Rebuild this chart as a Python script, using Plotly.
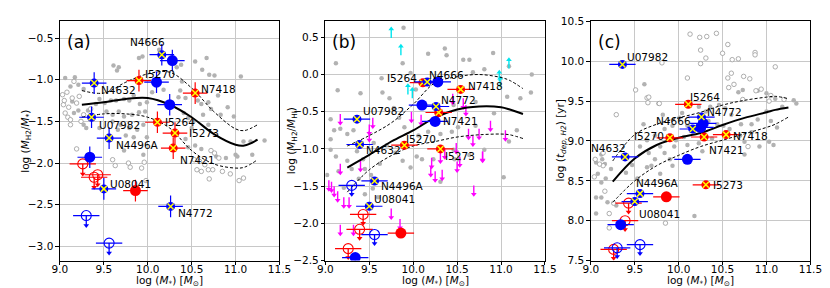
import plotly.graph_objects as go

# ---------------- galaxy samples (stellar mass) ----------------
bx_names = ["N4666", "N4632", "U07982", "N4496A", "U08041", "N4772"]
bx_mstar = [10.16, 9.39, 9.36, 9.56, 9.50, 10.26]
rx_names = ["I5270", "N7418", "I5264", "I5273", "N7421"]
rx_mstar = [9.90, 10.54, 10.11, 10.31, 10.29]
bf_mstar = [10.28, 10.10, 10.25, 9.34]
rf_mstar = [9.86]
ro_mstar = [9.26, 9.39, 9.43]
bo_mstar = [9.30, 9.56]

# panel (a): log(MH2/M*)
a_bx = [-0.70, -1.04, -1.45, -1.70, -2.31, -2.52]
a_rx = [-1.01, -1.16, -1.51, -1.64, -1.82]
a_bf = [-0.77, -1.03, -1.30, -1.93]
a_rf = [-2.33]
a_ro = [-2.01, -2.17, -2.14]
a_bo = [-2.63, -2.96]
# panel (b): log(MH2/MHI)
b_bx = [-0.10, -0.94, -0.60, -1.43, -1.77, -0.43]
b_rx = [-0.95, -0.20, -0.11, -1.00, -0.51]
b_bf = [-0.10, -0.41, -0.63, -2.46]
b_rf = [-2.13]
b_ro = [-2.34, -2.08, -1.88]
b_bo = [-1.49, -2.15]
# panel (c): log(t_dep,H2)
c_bx = [9.15, 8.80, 9.96, 8.34, 8.24, 9.30]
c_rx = [9.04, 9.08, 9.46, 8.45, 9.05]
c_bf = [9.22, 8.77, 9.17, 7.95]
c_rf = [8.30]
c_ro = [7.64, 8.00, 8.22]
c_bo = [7.66, 7.70]

# ---------------- relations (solid = median, dashed = scatter) ----------------
curve_x = [9.25, 9.5, 9.75, 10.0, 10.25, 10.5, 10.75, 11.0, 11.1, 11.25]
a_mid = [-1.30, -1.27, -1.23, -1.22, -1.30, -1.45, -1.65, -1.78, -1.79, -1.72]
a_hi = [-1.13, -1.16, -1.03, -0.93, -0.91, -1.10, -1.38, -1.59, -1.61, -1.54]
a_lo = [-1.45, -1.41, -1.41, -1.45, -1.58, -1.85, -2.01, -2.06, -2.05, -1.96]
b_mid = [-1.25, -1.08, -0.90, -0.75, -0.58, -0.47, -0.43, -0.44, -0.47, -0.53]
b_hi = [-0.96, -0.82, -0.65, -0.40, -0.11, -0.03, 0.00, -0.04, -0.08, -0.19]
b_lo = [-1.58, -1.28, -1.09, -0.96, -0.90, -0.84, -0.81, -0.80, -0.81, -0.86]
c_mid = [8.49, 8.78, 8.95, 9.04, 9.10, 9.20, 9.29, 9.36, 9.39, 9.42]
c_hi = [8.75, 9.08, 9.21, 9.29, 9.36, 9.45, 9.51, 9.55, 9.56, 9.53]
c_lo = [8.23, 8.50, 8.69, 8.82, 8.93, 9.01, 9.09, 9.17, 9.21, 9.30]

# ---------------- comparison samples ----------------
ga_fx = [9.90, 9.94, 9.67, 9.65, 9.06, 9.17, 9.12, 9.21, 9.27, 9.14, 9.16, 9.21, 9.27, 9.32, 9.41, 9.45,
         9.51, 9.58, 9.64, 9.73, 9.79, 9.84, 9.91, 9.99, 9.53, 9.60, 9.67, 9.73, 9.82, 9.90, 9.97, 9.95,
         9.88, 9.79, 9.69, 9.60, 9.30, 9.45, 9.75, 9.66, 9.84, 9.99, 9.73, 9.95, 10.13, 9.61, 10.05, 10.18,
         10.54, 10.67, 10.62, 10.70, 10.76, 11.06, 10.38, 10.33, 10.39, 10.37, 10.35, 10.43, 10.57, 10.61,
         10.69, 10.80, 10.72, 10.63, 10.69, 10.83, 10.91, 10.98, 10.41, 10.46, 10.52, 10.50, 10.43, 10.46,
         10.54, 10.61, 10.78, 10.89, 11.00, 11.02, 11.09, 11.17, 11.33, 11.19]
ga_fy = [-0.74, -0.72, -0.85, -0.89, -0.98, -0.97, -1.08, -1.06, -1.11, -1.26, -1.40, -1.37, -1.54, -1.37, -1.29, -1.23,
         -1.28, -1.25, -1.25, -1.23, -1.25, -1.19, -1.29, -1.27, -1.38, -1.42, -1.38, -1.44, -1.42, -1.39, -1.38, -1.54,
         -1.60, -1.58, -1.54, -1.50, -1.58, -1.58, -1.67, -1.60, -1.69, -1.69, -1.85, -1.90, -0.64, -0.83, -1.15, -1.12,
         -0.78, -0.74, -0.88, -0.94, -0.95, -0.96, -0.82, -0.85, -1.02, -1.13, -1.21, -1.22, -1.25, -1.29,
         -1.27, -1.19, -1.35, -1.42, -1.54, -1.42, -1.33, -1.44, -1.40, -1.46, -1.50, -1.58, -1.71, -1.81,
         -1.79, -1.83, -1.92, -1.94, -1.90, -1.92, -1.74, -1.74, -1.73, -1.90]
ga_ox = [9.16, 9.08, 9.14, 9.04, 9.10, 9.19, 9.06, 9.27, 9.12, 9.19, 9.60, 9.63, 9.78, 9.80, 9.96, 9.98,
         9.93, 10.72, 10.76, 10.81, 10.56, 10.61, 10.69, 10.74, 10.85, 10.94, 11.04, 11.09, 10.70, 10.53,
         10.59, 10.65, 9.03, 9.09, 9.22, 9.05, 9.12, 9.24, 9.35]
ga_oy = [-1.02, -1.15, -1.22, -1.30, -1.33, -1.28, -1.40, -1.42, -1.54, -1.83, -1.96, -2.03, -2.00, -2.05, -1.99, -2.21,
         -2.06, -1.85, -1.88, -1.94, -2.08, -2.10, -2.08, -2.08, -2.10, -2.13, -2.21, -2.18, -2.19, -1.96,
         -1.98, -2.02, -1.18, -1.45, -1.20, -1.25, -1.48, -1.50, -1.35]

gb_x = [9.12, 9.06, 9.10, 9.06, 9.06, 9.12, 9.17, 9.25, 9.32, 9.25, 9.36, 9.30, 9.43, 9.45, 9.45, 9.54,
        9.60, 9.65, 9.64, 9.73, 9.88, 9.84, 9.90, 9.80, 9.88, 9.97, 10.04, 10.10, 10.06, 10.17, 10.17, 9.97,
        10.03, 10.36, 10.38, 10.57, 10.64, 10.68, 10.81, 10.91, 11.09, 11.34, 11.07, 11.22, 11.18, 11.09,
        10.81, 10.44, 10.51, 10.31, 10.71, 10.46, 10.71, 10.92, 11.03, 10.31, 10.46, 10.47, 10.52, 10.64,
        10.23, 11.35, 9.14, 9.89, 9.21, 9.38, 9.52, 9.62, 9.70, 9.55, 9.78, 9.40, 9.02, 9.15]
gb_y = [0.15, -0.60, -0.75, -0.87, -1.01, -1.10, -0.73, -0.80, -0.75, -1.16, -1.03, -1.27, -1.14, -1.27, -1.61, -1.53,
        -1.65, -0.24, -0.05, -0.32, 0.15, -0.58, -0.71, -1.05, -1.16, -1.25, -1.10, -1.14, -0.82, -0.77, 0.28, 0.02,
        -0.20, 0.35, 0.26, 0.20, 0.20, 0.03, 0.07, 0.29, 0.11, -0.24, -0.30, -0.32, -0.75, -0.90,
        -1.01, -0.77, -0.71, -0.80, -0.69, -0.41, -0.37, -0.52, -1.38, -1.44, -1.01, -1.14, -1.14, -1.08,
        -1.14, 0.00, -0.21, 0.63, -1.52, -1.40, -1.35, -1.20, -0.95, -0.92, -0.45, -0.25, -1.35, -1.30]
mag_x = [9.17, 9.54, 9.50, 9.17, 9.40, 9.04, 9.07, 9.10, 9.14, 9.21, 9.27, 9.17, 9.32, 9.75, 9.85, 9.98,
         10.21, 10.20, 10.25, 10.33, 10.50, 10.69, 10.79, 10.45, 10.57, 10.60, 10.49, 10.63, 10.68, 10.75,
         10.88, 11.05, 10.79, 10.31, 10.36, 10.53, 10.09, 9.50]
mag_y = [-0.53, -0.58, -0.76, -1.20, -1.16, -1.42, -1.44, -1.50, -1.57, -1.65, -1.65, -2.02, -2.02, -1.80, -1.94, -0.50,
         -1.12, -1.23, -1.30, -1.28, -1.17, -1.49, -1.04, -0.26, -0.32, -0.41, -0.92, -0.73, -0.82, -0.73,
         -0.62, -0.75, -1.03, -1.05, -0.99, -1.10, -0.54, -0.67]
cyan_x = [9.75, 9.86, 9.94, 9.99, 10.98, 11.09, 10.99]
cyan_y = [0.49, 0.26, -0.27, -0.32, -0.09, 0.08, -0.17]

gc_fx = [9.61, 9.77, 9.82, 9.12, 9.06, 9.13, 9.16, 9.23, 9.08, 9.17, 9.12, 9.06, 9.12, 9.19, 9.29, 9.06,
         9.56, 9.64, 9.66, 9.73, 9.69, 9.79, 9.84, 9.90, 9.95, 9.97, 10.06, 10.10, 9.93, 10.01, 10.04, 9.84,
         9.73, 9.60, 10.10, 9.53, 9.64, 9.79, 9.93, 10.23, 10.31, 10.36, 10.46, 10.53, 10.60, 10.68, 10.73,
         10.90, 11.00, 11.10, 11.18, 11.31, 11.34, 10.34, 10.44, 10.51, 10.58, 10.71, 10.83, 10.90, 11.00,
         11.05, 11.12, 10.83, 10.70, 10.75, 10.92, 11.03, 11.08, 10.38, 10.23, 10.27, 10.75, 10.18, 9.40, 9.47]
gc_fy = [9.71, 9.47, 9.33, 8.83, 8.73, 8.77, 8.71, 8.65, 8.59, 8.53, 8.48, 8.29, 8.29, 8.23, 8.19, 8.09,
         8.93, 9.01, 8.85, 8.77, 8.69, 8.93, 8.85, 8.77, 8.93, 9.01, 9.05, 8.95, 9.19, 9.29, 9.35, 9.15,
         9.07, 9.21, 9.19, 8.53, 8.67, 8.59, 8.69, 9.43, 9.37, 9.43, 9.45, 9.41, 9.33, 9.61, 9.64,
         9.63, 9.60, 9.53, 9.43, 9.51, 9.47, 9.25, 9.21, 9.19, 9.15, 9.21, 9.21, 9.27, 9.37,
         9.25, 9.17, 9.11, 9.07, 8.99, 8.93, 8.99, 8.95, 9.03, 8.97, 8.87, 8.83, 8.06, 8.60, 8.70]
gc_ox = [10.13, 10.24, 10.32, 10.43, 10.25, 10.31, 10.25, 10.56, 10.50, 10.61, 10.68, 10.87, 10.87, 11.10,
         10.60, 10.56, 10.74, 10.81, 10.63, 10.57, 10.10, 9.81, 9.29, 9.64, 9.65, 10.88, 10.94, 11.03, 11.20,
         10.73, 9.51, 9.66, 9.78, 9.14, 9.04, 9.16, 9.21, 9.85, 9.21, 9.10, 9.05, 9.14, 9.26, 10.79, 11.05]
gc_oy = [10.34, 10.30, 10.31, 10.35, 10.14, 10.04, 9.97, 10.21, 10.10, 10.02, 10.03, 10.11, 10.08, 9.93,
         9.85, 9.79, 9.81, 9.78, 9.71, 9.67, 9.79, 9.98, 9.33, 9.54, 9.48, 9.63, 9.65, 9.50, 9.52,
         9.52, 9.64, 9.55, 9.47, 8.69, 8.55, 8.37, 8.09, 7.97, 7.91, 8.71, 8.77, 8.85, 8.22, 8.93, 9.57]

# label offsets (pixels) per panel, in order bx_names then rx_names
a_lab = [(-14, 13, "center"), (5, -7, "left"), (5, -8, "left"), (5, -7, "left"), (4, 5, "left"), (5, -7, "left"),
         (4, 7, "left"), (4, 4, "left"), (6, 0, "left"), (12, 0, "left"), (5, -12, "left")]
b_lab = [(0, 7, "left"), (4, -6, "left"), (4, 8, "left"), (4, -5, "left"), (3, 7, "left"), (3, 7, "left"),
         (0, 6, "left"), (5, 3, "left"), (-4, 5, "right"), (3, -7, "left"), (2, -9, "left")]
c_lab = [(0, 8, "right"), (3, 9, "right"), (3, 7, "left"), (-6, 11, "left"), (2, -12, "left"), (4, 5, "left"),
         (-4, 2, "right"), (5, -1, "left"), (0, 7, "left"), (5, 0, "left"), (3, -13, "left")]

xticks = [9.0, 9.5, 10.0, 10.5, 11.0, 11.5]
a_yticks = [-3.0, -2.5, -2.0, -1.5, -1.0, -0.5]
b_yticks = [-2.5, -2.0, -1.5, -1.0, -0.5, 0.0, 0.5]
c_yticks = [7.5, 8.0, 8.5, 9.0, 9.5, 10.0, 10.5]

BLUE = "#0000ff"
RED = "#ff0000"
YEL = "#ffff00"
GRAY = "#b2b2b2"
FONT = "DejaVu Sans"

fig = go.Figure()


def lim_arrows(xs, ys, L, color, xa, ya, down=True, width=1.3, size=5):
    lx, ly = [], []
    for x, y in zip(xs, ys):
        lx += [x, x, None]
        ly += [y, y - L if down else y + L, None]
    fig.add_trace(go.Scatter(x=lx, y=ly, mode="lines", line=dict(color=color, width=width),
                             xaxis=xa, yaxis=ya, hoverinfo="skip", showlegend=False))
    fig.add_trace(go.Scatter(x=xs, y=[y - L if down else y + L for y in ys], mode="markers",
                             marker=dict(symbol="triangle-down" if down else "triangle-up", size=size,
                                         color=color, line=dict(width=0)),
                             xaxis=xa, yaxis=ya, hoverinfo="skip", showlegend=False))


def panel(xa, ya, fx, fy, ox, oy, mid, hi, lo, vals, xerr, yerr, L, labels):
    bx, rx, bf, rf, ro, bo = vals
    fig.add_trace(go.Scatter(x=fx, y=fy, mode="markers", xaxis=xa, yaxis=ya, showlegend=False,
                             marker=dict(size=4.5, color=GRAY, line=dict(width=0))))
    if ox:
        fig.add_trace(go.Scatter(x=ox, y=oy, mode="markers", xaxis=xa, yaxis=ya, showlegend=False,
                                 marker=dict(size=4.5, color="white", line=dict(width=0.8, color="#999999"))))
    for yy, dash, w in [(mid, "solid", 2.0), (hi, "3px,2px", 1.0), (lo, "3px,2px", 1.0)]:
        fig.add_trace(go.Scatter(x=curve_x, y=yy, mode="lines", line=dict(color="black", width=w, dash=dash,
                                                                          shape="spline"),
                                 xaxis=xa, yaxis=ya, showlegend=False))
    # upper limits (open circles)
    for xs, ys, col in [(ro_mstar, ro, RED), (bo_mstar, bo, BLUE)]:
        lim_arrows(xs, ys, L, col, xa, ya)
        fig.add_trace(go.Scatter(x=xs, y=ys, mode="markers", xaxis=xa, yaxis=ya, showlegend=False,
                                 error_x=dict(type="constant", value=0.15, color=col, thickness=1.2, width=0),
                                 marker=dict(size=10, color="rgba(0,0,0,0)", line=dict(width=1.1, color=col))))
    # detections
    groups = [(rx_mstar, rx, RED, 9, True), (rf_mstar, rf, RED, 11, False),
              (bf_mstar, bf, BLUE, 11, False), (bx_mstar, bx, BLUE, 9, True)]
    for xs, ys, col, sz, cross in groups:
        fig.add_trace(go.Scatter(x=xs, y=ys, mode="markers", xaxis=xa, yaxis=ya, showlegend=False,
                                 error_x=dict(type="constant", value=xerr, color=col, thickness=1.2, width=0),
                                 error_y=dict(type="constant", value=yerr, color=col, thickness=1.2, width=0),
                                 marker=dict(size=sz, color=col, line=dict(width=0))))
        if cross:
            fig.add_trace(go.Scatter(x=xs, y=ys, mode="markers", xaxis=xa, yaxis=ya, showlegend=False,
                                     marker=dict(size=6, symbol="x-thin", line=dict(width=1.5, color=YEL))))
    names = bx_names + rx_names
    xs = bx_mstar + rx_mstar
    ys = bx + rx
    for n, x, y, (dx, dy, anc) in zip(names, xs, ys, labels):
        fig.add_annotation(x=x, y=y, xref=xa, yref=ya, text=n, showarrow=False, xshift=dx, yshift=dy,
                           xanchor=anc, yanchor="middle", font=dict(family=FONT, size=10.5, color="black"))


panel("x", "y", ga_fx, ga_fy, ga_ox, ga_oy, a_mid, a_hi, a_lo,
      (a_bx, a_rx, a_bf, a_rf, a_ro, a_bo), 0.14, 0.13, 0.12, a_lab)
fig.add_trace(go.Scatter(x=gb_x, y=gb_y, mode="markers", xaxis="x2", yaxis="y2", showlegend=False,
                         marker=dict(size=4.5, color=GRAY, line=dict(width=0))))
lim_arrows(mag_x, mag_y, 0.12, "#ff00ff", "x2", "y2", down=True, width=1.4, size=5)
lim_arrows(cyan_x, cyan_y, 0.12, "#00e5ee", "x2", "y2", down=False, width=1.4, size=5)
panel("x2", "y2", [], [], [], [], b_mid, b_hi, b_lo,
      (b_bx, b_rx, b_bf, b_rf, b_ro, b_bo), 0.15, 0.04, 0.12, b_lab)
panel("x3", "y3", gc_fx, gc_fy, gc_ox, gc_oy, c_mid, c_hi, c_lo,
      (c_bx, c_rx, c_bf, c_rf, c_ro, c_bo), 0.15, 0.04, 0.11, c_lab)

W, H = 830, 288
xdom = [(45, 270), (317, 542), (589, 814)]
ytop, ybot = 7.7, 257.3
ydom = [1 - ybot / H, 1 - ytop / H]
yr = [[-3.17, -0.30], [-2.5, 0.714], [7.5, 10.5]]
ytv = [a_yticks, b_yticks, c_yticks]

axis_common = dict(showline=True, linecolor="black", linewidth=1, mirror=True, ticks="outside",
                   ticklen=3.5, tickcolor="black", showgrid=True, gridcolor="#c8c8c8", gridwidth=1,
                   zeroline=False, tickfont=dict(family=FONT, size=10.5, color="black"), tickformat=".1f")
lay = {}
for i in range(3):
    sx = "" if i == 0 else str(i + 1)
    lay["xaxis" + sx] = dict(axis_common, domain=[xdom[i][0] / W, xdom[i][1] / W], range=[9.0, 11.5],
                             tickvals=xticks, anchor="y" + sx, ticklabelstandoff=-5)
    lay["yaxis" + sx] = dict(axis_common, domain=ydom, range=yr[i], tickvals=ytv[i], anchor="x" + sx)
fig.update_layout(**lay)

# panel tags and axis titles
for i, tag in enumerate(["(a)", "(b)", "(c)"]):
    fig.add_annotation(x=(xdom[i][0] + 5) / W, y=1 - 29 / H, xref="paper", yref="paper", text=tag,
                       showarrow=False, xanchor="left", yanchor="middle",
                       font=dict(family=FONT, size=17, color="black"))
    fig.add_annotation(x=(xdom[i][0] + xdom[i][1]) / 2 / W, y=1 - 279 / H, xref="paper", yref="paper",
                       text="log (<i>M</i><sub>*</sub>) [<i>M</i><sub>⊙</sub>]", showarrow=False,
                       xanchor="center", yanchor="middle", font=dict(family=FONT, size=10.5, color="black"))
ytitles = ["log (<i>M</i><sub>H2</sub>/<i>M</i><sub>*</sub>)",
           "log (<i>M</i><sub>H2</sub>/<i>M</i><sub>HI</sub>)",
           "log (<i>t</i><sub><i>dep, H2</i></sub>) [yr]"]
for xpix, t in zip([10, 283, 558], ytitles):
    fig.add_annotation(x=xpix / W, y=1 - 132.5 / H, xref="paper", yref="paper", text=t, textangle=-90,
                       showarrow=False, xanchor="center", yanchor="middle",
                       font=dict(family=FONT, size=10.5, color="black"))

fig.update_layout(width=W, height=H, margin=dict(l=0, r=0, t=0, b=0), paper_bgcolor="white",
                  plot_bgcolor="white", showlegend=False)
fig.write_html("out.html")
